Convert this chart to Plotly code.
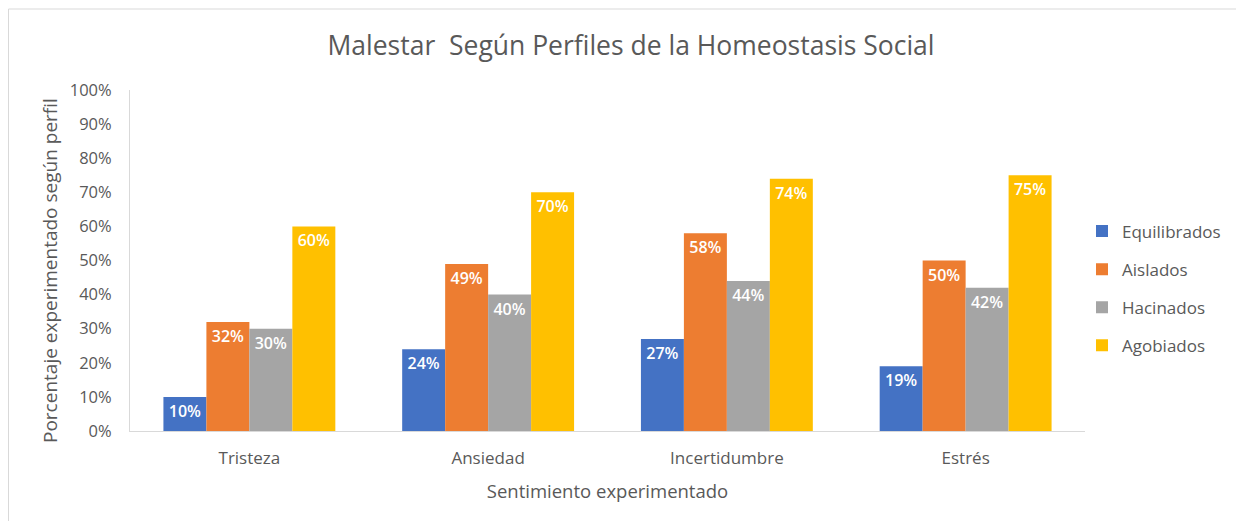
import plotly.graph_objects as go

categories = ["Tristeza", "Ansiedad", "Incertidumbre", "Estrés"]
series_names = ["Equilibrados", "Aislados", "Hacinados", "Agobiados"]
equilibrados = [10, 24, 27, 19]
aislados = [32, 49, 58, 50]
hacinados = [30, 40, 44, 42]
agobiados = [60, 70, 74, 75]
y_ticks = [0, 10, 20, 30, 40, 50, 60, 70, 80, 90, 100]
y_tick_labels = [f"{v}%" for v in y_ticks]

colors = ["#4472C4", "#ED7D31", "#A5A5A5", "#FFC000"]
values = [equilibrados, aislados, hacinados, agobiados]

FONT = "'Open Sans', Lato, sans-serif"
GRAY = "#595959"

# page body offsets the figure by 8px; work in screen coordinates
OFF = 8
W, H = 1244 - OFF, 521 - OFF
L, R, T, B = 130 - OFF, 1244 - 1085, 90 - OFF, 521 - 431
pw, ph = W - L - R, H - T - B

def px(X):
    return (X - OFF - L) / pw

def py(Y):
    return (H - B - (Y - OFF)) / ph

fig = go.Figure()
for name, vals, col in zip(series_names, values, colors):
    fig.add_trace(go.Bar(
        x=categories, y=vals, name=name, legendgroup=name,
        marker=dict(color=col, line=dict(width=0)),
        text=[f"{v}%" for v in vals],
        textposition="inside", insidetextanchor="end", textangle=0,
        textfont=dict(color="white", size=16, family=FONT, weight=600),
        cliponaxis=False,
    ))

fig.update_layout(
    width=W, height=H,
    margin=dict(l=L, r=R, t=T, b=B),
    paper_bgcolor="white", plot_bgcolor="white",
    barmode="group", bargap=0.28, bargroupgap=0,
    font=dict(family=FONT, color=GRAY, size=16),
    title=dict(text="Malestar  Según Perfiles de la Homeostasis Social",
               x=px(631), xref="paper", xanchor="center",
               y=1 - (46 - OFF) / H, yanchor="middle",
               font=dict(size=26.5, color=GRAY, family=FONT)),
    legend=dict(x=px(1082), xanchor="left", y=py(288.5), yanchor="middle",
                font=dict(size=17, color=GRAY, family=FONT),
                tracegroupgap=13, itemwidth=30, traceorder="grouped"),
    xaxis=dict(showgrid=False, showline=True, linecolor="#D9D9D9", linewidth=1,
               ticks="", tickfont=dict(size=17, color=GRAY),
               ticklabelstandoff=12,
               title=dict(text="Sentimiento experimentado", standoff=16,
                          font=dict(size=18.5, color=GRAY))),
    yaxis=dict(range=[0, 100], tickvals=y_ticks, ticktext=y_tick_labels,
               showgrid=False, showline=True, linecolor="#D9D9D9", linewidth=1,
               ticks="", tickfont=dict(size=16.5, color=GRAY),
               ticklabelstandoff=14, zeroline=False),
    annotations=[dict(text="Porcentaje experimentado según perfil",
                      xref="paper", yref="paper", x=px(50), y=py(271),
                      xanchor="center", yanchor="middle", textangle=-90,
                      showarrow=False, font=dict(size=19, color=GRAY, family=FONT))],
    shapes=[dict(type="rect", xref="paper", yref="paper",
                 x0=px(8.5), x1=px(1250), y0=py(530), y1=py(9),
                 line=dict(color="#D9D9D9", width=1), fillcolor="rgba(0,0,0,0)",
                 layer="below")],
)

fig.write_html("out.html")
